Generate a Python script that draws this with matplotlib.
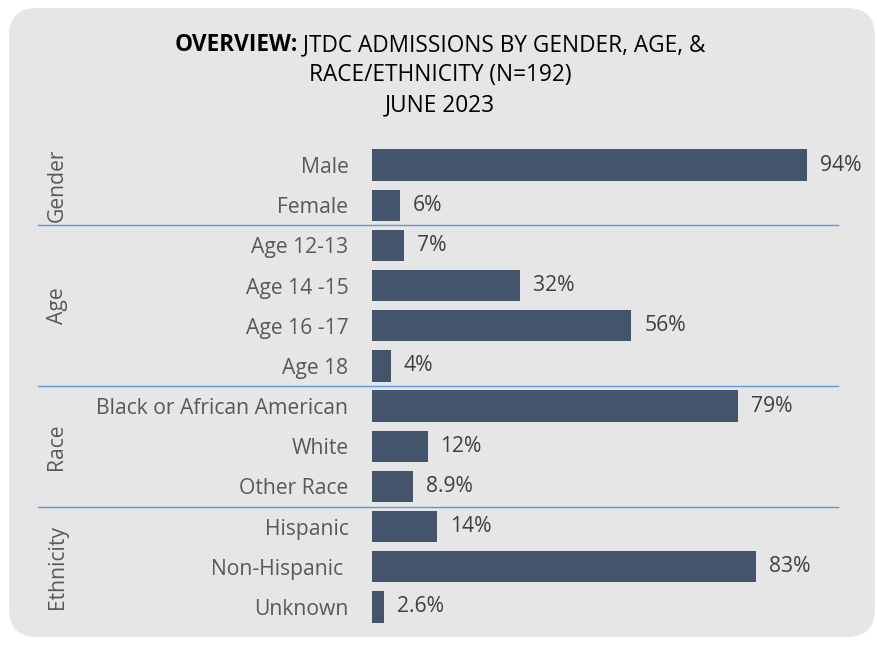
import matplotlib
matplotlib.use("Agg")
import matplotlib.pyplot as plt
import matplotlib.transforms as mtransforms
from matplotlib.patches import FancyBboxPatch

plt.rcParams['font.family'] = ['Open Sans', 'DejaVu Sans']

# data
categories = ['Male', 'Female',
              'Age 12-13', 'Age 14 -15', 'Age 16 -17', 'Age 18',
              'Black or African American', 'White', 'Other Race',
              'Hispanic', 'Non-Hispanic ', 'Unknown']
values = [94, 6, 7, 32, 56, 4, 79, 12, 8.9, 14, 83, 2.6]
groups = ['Gender', 'Age', 'Race', 'Ethnicity']
group_sizes = [2, 4, 3, 3]

bar_color = '#44546A'
panel_color = '#E6E6E6'
line_color = '#5B9BD5'
fs = 15.2

fig = plt.figure(figsize=(8.77, 6.46), dpi=100)
fig.patch.set_facecolor('white')

# rounded grey panel behind everything
panel = FancyBboxPatch((9 / 877, 9 / 646), 866 / 877, 629 / 646,
                       boxstyle='round,pad=0,rounding_size=0.032',
                       transform=fig.transFigure, facecolor=panel_color,
                       edgecolor='none', zorder=-5, mutation_aspect=877 / 646)
fig.patches.append(panel)

ax = fig.add_axes([372 / 877, 0.0294, (835 - 372) / 877, 0.7755 - 0.0294])
ax.set_facecolor('none')
ax.set_zorder(2)

ypos = list(range(len(categories)))
ax.barh(ypos, values, height=0.78, color=bar_color)
ax.set_xlim(0, 100)
ax.set_ylim(len(categories) - 0.5, -0.5)

for y, v in zip(ypos, values):
    ax.text(v + 2.8, y, f'{v:g}%', va='center', ha='left',
            fontsize=fs, color='#404040')

ax.set_yticks(ypos)
ax.set_yticklabels(categories, fontsize=fs, color='#595959')
ax.tick_params(axis='y', length=0, pad=17)
ax.set_xticks([])
for s in ax.spines.values():
    s.set_visible(False)

# group separators and rotated group names
blend = mtransforms.blended_transform_factory(fig.transFigure, ax.transData)
start = 0
for i, (g, n) in enumerate(zip(groups, group_sizes)):
    mid = start + (n - 1) / 2
    ax.text(57 / 877, mid, g, transform=blend, rotation=90, ha='center',
            va='center', fontsize=fs, color='#595959')
    if i < len(groups) - 1:
        ax.plot([38 / 877, 838 / 877], [start + n - 0.5] * 2, transform=blend,
                color=line_color, lw=1, clip_on=False)
    start += n

# title, first line has a bold lead-in
tfs = 16.3
renderer = fig.canvas.get_renderer()
cx = 440 / 877
t1 = fig.text(0, 1 - 45 / 646, 'OVERVIEW:', fontsize=tfs, fontweight='bold',
              va='center', ha='left', color='black')
t2 = fig.text(0, 1 - 45 / 646, ' JTDC ADMISSIONS BY GENDER, AGE, &',
              fontsize=tfs, va='center', ha='left', color='black')
w1 = t1.get_window_extent(renderer).width / fig.bbox.width
w2 = t2.get_window_extent(renderer).width / fig.bbox.width
x0 = cx - (w1 + w2) / 2
t1.set_x(x0)
t2.set_x(x0 + w1)
fig.text(cx, 1 - 75 / 646, 'RACE/ETHNICITY (N=192)', fontsize=tfs,
         ha='center', va='center', color='black')
fig.text(cx, 1 - 105 / 646, 'JUNE 2023', fontsize=tfs,
         ha='center', va='center', color='black')

fig.savefig('out.png', dpi=100, facecolor=fig.get_facecolor())
